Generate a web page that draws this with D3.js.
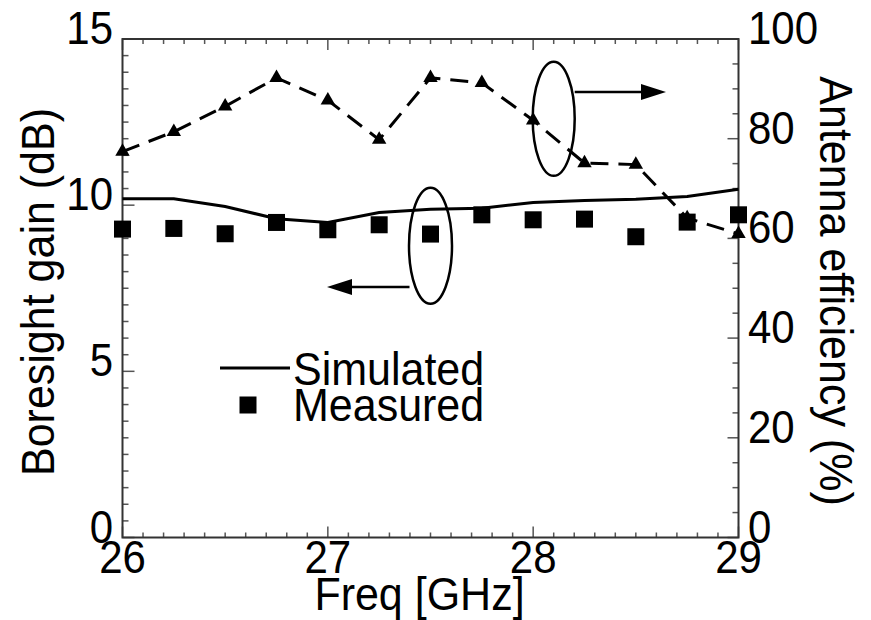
<!DOCTYPE html>
<html>
<head>
<meta charset="utf-8">
<script src="https://cdn.jsdelivr.net/npm/d3@7"></script>
<style>
  body { margin: 0; background: #fff; }
  text { font-family: "Liberation Sans", Arial, sans-serif; fill: #000; }
</style>
</head>
<body>
<svg id="chart" width="871" height="620"></svg>
<script>
// data
const freq = [26, 26.25, 26.5, 26.75, 27, 27.25, 27.5, 27.75, 28, 28.25, 28.5, 28.75, 29];
const simGain = [10.19, 10.19, 9.96, 9.59, 9.48, 9.78, 9.88, 9.91, 10.08, 10.14, 10.18, 10.26, 10.48];
const measGain = [9.28, 9.30, 9.14, 9.48, 9.26, 9.41, 9.13, 9.71, 9.56, 9.58, 9.05, 9.49, 9.71];
const efficiency = [77.4, 81.4, 86.5, 92.2, 87.7, 79.8, 92.2, 91.2, 83.7, 75.1, 74.8, 64.1, 60.9];

const xTicks = [26, 27, 28, 29];
const gainTicks = [0, 5, 10, 15];
const effTicks = [0, 20, 40, 60, 80, 100];

const svg = d3.select("#chart");
const plotL = 122.5, plotR = 738.5, plotT = 39, plotB = 537.5;

const x = d3.scaleLinear().domain([26, 29]).range([plotL, plotR]);
const yL = d3.scaleLinear().domain([0, 15]).range([plotB, plotT]);
const yR = d3.scaleLinear().domain([0, 100]).range([plotB, plotT]);

const tickColor = "#555";
const stretch = 1.08; // glyphs in the figure are a little taller than Arial

// text helper: position, rotation, slight vertical stretch
function label(parent, tx, ty, str, size, anchor, rot) {
	return parent.append("text")
		.attr("transform", `translate(${tx},${ty}) rotate(${rot || 0}) scale(1,${stretch})`)
		.attr("text-anchor", anchor || "start")
		.style("font-size", size + "px")
		.text(str);
}

// ===== ticks (inward) =====
const g = svg.append("g");

// bottom and top x ticks
d3.range(260, 291).map(d => d / 10).forEach(v => {
	const major = Math.abs(v - Math.round(v)) < 1e-6;
	const len = major ? 11 : 5;
	g.append("line").attr("x1", x(v)).attr("x2", x(v))
		.attr("y1", plotB).attr("y2", plotB - len)
		.attr("stroke", tickColor).attr("stroke-width", 1.5);
	g.append("line").attr("x1", x(v)).attr("x2", x(v))
		.attr("y1", plotT).attr("y2", plotT + len)
		.attr("stroke", tickColor).attr("stroke-width", 1.5);
});

// left gain ticks, every 0.5 dB
d3.range(0, 31).map(d => d / 2).forEach(v => {
	const len = v % 5 === 0 ? 12 : 6;
	g.append("line").attr("x1", plotL).attr("x2", plotL + len)
		.attr("y1", yL(v)).attr("y2", yL(v))
		.attr("stroke", tickColor).attr("stroke-width", 1.5);
});

// right efficiency ticks, every 5 %
d3.range(0, 101, 5).forEach(v => {
	const len = v % 20 === 0 ? 11 : 6;
	g.append("line").attr("x1", plotR).attr("x2", plotR - len)
		.attr("y1", yR(v)).attr("y2", yR(v))
		.attr("stroke", tickColor).attr("stroke-width", 1.5);
});

// frame
svg.append("rect")
	.attr("x", plotL).attr("y", plotT)
	.attr("width", plotR - plotL).attr("height", plotB - plotT)
	.attr("fill", "none").attr("stroke", "#333").attr("stroke-width", 2);

// ===== tick labels =====
const lab = svg.append("g");
xTicks.forEach(d => label(lab, x(d), 573, d, 42, "middle"));
gainTicks.forEach(d => label(lab, 113, yL(d) + 5, d, 42, "end"));
effTicks.forEach(d => label(lab, 748, yR(d) + 5, d, 42, "start"));

// ===== axis titles =====
label(svg, (plotL + plotR) / 2 - 11, 610, "Freq [GHz]", 43, "middle");
label(svg, 54, 292, "Boresight gain (dB)", 43, "middle", -90);
label(svg, 820, 291, "Antenna efficiency (%)", 43, "middle", 90);

// ===== series =====
const simLine = d3.line().x((d, i) => x(freq[i])).y(d => yL(d));
svg.append("path").datum(simGain)
	.attr("d", simLine)
	.attr("fill", "none").attr("stroke", "#000").attr("stroke-width", 3);

const effLine = d3.line().x((d, i) => x(freq[i])).y(d => yR(d));
svg.append("path").datum(efficiency)
	.attr("d", effLine)
	.attr("fill", "none").attr("stroke", "#000").attr("stroke-width", 3)
	.attr("stroke-dasharray", "18,10");

svg.append("g").selectAll("path").data(efficiency).enter().append("path")
	.attr("transform", (d, i) => `translate(${x(freq[i])},${yR(d)})`)
	.attr("d", d3.symbol().type(d3.symbolTriangle).size(90))
	.attr("fill", "#000");

const sq = 17;
svg.append("g").selectAll("rect").data(measGain).enter().append("rect")
	.attr("x", (d, i) => x(freq[i]) - sq / 2)
	.attr("y", d => yL(d) - sq / 2)
	.attr("width", sq).attr("height", sq)
	.attr("fill", "#000");

// ===== annotations (ellipse + arrow) =====
function arrow(x1, x2, y) {
	const dir = x2 > x1 ? 1 : -1;
	svg.append("line").attr("x1", x1).attr("x2", x2 - dir * 24)
		.attr("y1", y).attr("y2", y)
		.attr("stroke", "#000").attr("stroke-width", 2.5);
	svg.append("path")
		.attr("d", `M${x2},${y} L${x2 - dir * 25},${y - 8} L${x2 - dir * 25},${y + 8} Z`)
		.attr("fill", "#000");
}

// efficiency -> right axis
svg.append("ellipse")
	.attr("cx", x(28.1)).attr("cy", yR(84))
	.attr("rx", 21).attr("ry", 57)
	.attr("fill", "none").attr("stroke", "#000").attr("stroke-width", 2.5);
arrow(x(28.1) + 21, 666, 92);

// gain -> left axis
svg.append("ellipse")
	.attr("cx", x(27.5)).attr("cy", yL(8.78))
	.attr("rx", 21.5).attr("ry", 58)
	.attr("fill", "none").attr("stroke", "#000").attr("stroke-width", 2.5);
arrow(x(27.5) - 21, 327, 287);

// ===== legend =====
svg.append("line").attr("x1", 220).attr("x2", 290)
	.attr("y1", 368).attr("y2", 368)
	.attr("stroke", "#000").attr("stroke-width", 3);
label(svg, 293, 385, "Simulated", 43, "start");

svg.append("rect").attr("x", 248 - sq / 2).attr("y", 405 - sq / 2)
	.attr("width", sq).attr("height", sq).attr("fill", "#000");
label(svg, 293, 421, "Measured", 43, "start");
</script>
</body>
</html>
